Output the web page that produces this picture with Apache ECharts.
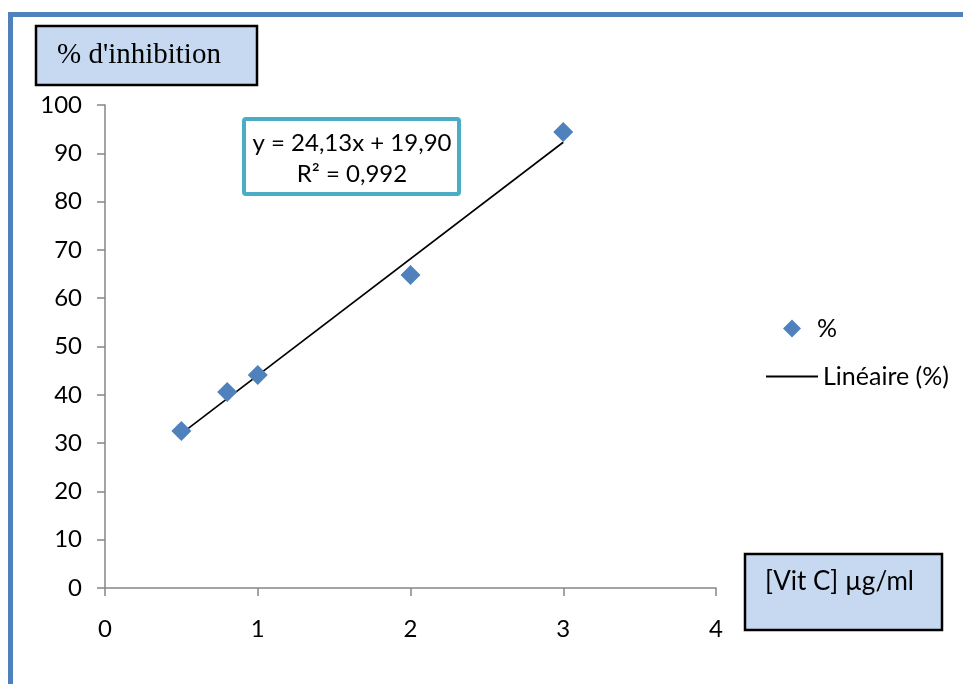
<!DOCTYPE html>
<html>
<head>
<meta charset="utf-8">
<script src="https://cdn.jsdelivr.net/npm/echarts@6/dist/echarts.min.js"></script>
<style>
html,body{margin:0;padding:0;background:#fff;}
#chart{width:963px;height:684px;}
</style>
</head>
<body>
<div id="chart"></div>
<script>
// Data
const concentrations = [0.5, 0.8, 1, 2, 3];
const inhibition = [32.5, 40.6, 44.1, 64.8, 94.4];
const trendX = [0.5, 3];
const trendY = [31.97, 92.29];
const yTicks = [0, 10, 20, 30, 40, 50, 60, 70, 80, 90, 100];
const xTicks = [0, 1, 2, 3, 4];
const yTitle = "% d'inhibition";
const xTitle = "[Vit C] µg/ml";
const equationLines = ["y = 24,13x + 19,90", "R² = 0,992"];
const seriesName = "%";
const trendName = "Linéaire (%)";

const FONT = 'Lato, "Open Sans", sans-serif';
const chart = echarts.init(document.getElementById('chart'), null, {renderer: 'canvas'});

const option = {
  backgroundColor: '#ffffff',
  animation: false,
  grid: {left: 105, top: 105, width: 611, height: 483, containLabel: false},
  xAxis: {
    type: 'value', min: xTicks[0], max: xTicks[xTicks.length - 1], interval: 1,
    axisLine: {show: true, onZero: false, lineStyle: {color: '#868686', width: 1.5}},
    axisTick: {show: true, length: 8, lineStyle: {color: '#868686', width: 1.5}},
    axisLabel: {color: '#000', fontFamily: FONT, fontSize: 24, margin: 29},
    splitLine: {show: false}
  },
  yAxis: {
    type: 'value', min: yTicks[0], max: yTicks[yTicks.length - 1], interval: 10,
    axisLine: {show: true, onZero: false, lineStyle: {color: '#868686', width: 1.5}},
    axisTick: {show: true, length: 8, lineStyle: {color: '#868686', width: 1.5}},
    axisLabel: {color: '#000', fontFamily: FONT, fontSize: 24, margin: 23},
    splitLine: {show: false}
  },
  legend: [
    {
      data: [{name: seriesName, icon: 'diamond'}],
      left: 783, top: 316, padding: 0, itemWidth: 18, itemHeight: 18, orient: 'vertical',
      textStyle: {fontFamily: FONT, fontSize: 25, color: '#000', padding: [0, 0, 0, 11]}
    },
    {
      data: [{name: trendName, icon: 'rect', itemStyle: {color: '#000'}}],
      left: 766, top: 364, padding: 0, itemWidth: 52, itemHeight: 2, orient: 'vertical',
      textStyle: {fontFamily: FONT, fontSize: 25, color: '#000', padding: [0, 0, 0, 0]}
    }
  ],
  series: [
    {
      name: trendName, type: 'line',
      data: trendX.map((x, i) => [x, trendY[i]]),
      showSymbol: false, symbol: 'none',
      lineStyle: {color: '#000', width: 1.6},
      itemStyle: {color: '#000'},
      z: 2
    },
    {
      name: seriesName, type: 'scatter',
      data: concentrations.map((x, i) => [x, inhibition[i]]),
      symbol: 'diamond', symbolSize: 20,
      itemStyle: {color: '#4F81BD', opacity: 1},
      z: 3
    }
  ],
  graphic: [
    // outer blue frame (top and left edges)
    {type: 'line', shape: {x1: 8, y1: 14.5, x2: 963, y2: 14.5}, style: {stroke: '#4F81BD', lineWidth: 5}, z: 10},
    {type: 'line', shape: {x1: 10.5, y1: 12, x2: 10.5, y2: 684}, style: {stroke: '#4F81BD', lineWidth: 5}, z: 10},
    // y-axis title box
    {type: 'rect', shape: {x: 36, y: 26, width: 221, height: 59}, style: {fill: '#C6D9F1', stroke: '#000', lineWidth: 2.5}, z: 10},
    {type: 'text', x: 57, y: 55, style: {text: yTitle, font: '29px "Liberation Serif", "DejaVu Serif", serif', fill: '#000', verticalAlign: 'middle'}, z: 11},
    // x-axis title box
    {type: 'rect', shape: {x: 745, y: 554, width: 197, height: 76}, style: {fill: '#C6D9F1', stroke: '#000', lineWidth: 2.5}, z: 10},
    {type: 'text', x: 765, y: 582, style: {text: xTitle, font: '26px ' + FONT, fill: '#000', verticalAlign: 'middle'}, z: 11},
    // equation box
    {type: 'rect', shape: {x: 244, y: 119, width: 215, height: 75, r: 2}, style: {fill: '#fff', stroke: '#4BACC6', lineWidth: 4}, z: 10},
    {type: 'text', x: 352, y: 143, style: {text: equationLines[0], font: '24px ' + FONT, fill: '#000', align: 'center', verticalAlign: 'middle'}, z: 11},
    {type: 'text', x: 352, y: 174, style: {text: equationLines[1], font: '24px ' + FONT, fill: '#000', align: 'center', verticalAlign: 'middle'}, z: 11}
  ]
};
chart.setOption(option);
</script>
</body>
</html>
